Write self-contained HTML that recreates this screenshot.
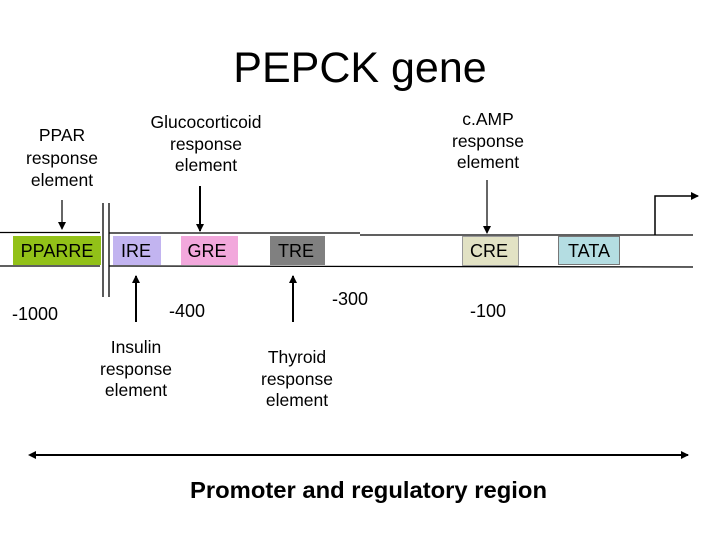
<!DOCTYPE html>
<html><head><meta charset="utf-8"><style>
html,body{margin:0;padding:0;background:#fff;}
svg{display:block;}
text{font-family:"Liberation Sans",sans-serif;fill:#000;}
</style></head><body>
<svg width="720" height="540" viewBox="0 0 720 540" xmlns="http://www.w3.org/2000/svg">
<defs>
<marker id="ah" markerWidth="8" markerHeight="8" refX="7" refY="4" orient="auto" markerUnits="userSpaceOnUse">
<path d="M0,0 L8,4 L0,8 z" fill="#000"/></marker>
</defs>
<text x="360" y="82" font-size="43" text-anchor="middle">PEPCK gene</text>

<line x1="0" y1="232.5" x2="100" y2="232.5" stroke="#000" stroke-width="1.3"/>
<line x1="109" y1="233" x2="360" y2="233" stroke="#000" stroke-width="1.3"/>
<line x1="360" y1="235" x2="693" y2="235" stroke="#000" stroke-width="1.3"/>
<line x1="0" y1="266" x2="100" y2="266" stroke="#000" stroke-width="1.3"/>
<line x1="109" y1="266" x2="693" y2="267" stroke="#000" stroke-width="1.3"/>
<line x1="103" y1="203" x2="103" y2="297" stroke="#000" stroke-width="1.3"/>
<line x1="109" y1="203" x2="109" y2="297" stroke="#000" stroke-width="1.3"/>

<rect x="13" y="236" width="88" height="29" fill="#92c118"/>
<text x="57" y="257" font-size="18" text-anchor="middle">PPARRE</text>
<rect x="113" y="236" width="48" height="29" fill="#c2b4f0"/>
<text x="136" y="257" font-size="18" text-anchor="middle">IRE</text>
<rect x="181" y="236" width="57" height="29" fill="#f2a8dc"/>
<text x="207" y="257" font-size="18" text-anchor="middle">GRE</text>
<rect x="270" y="236" width="55" height="29" fill="#808080"/>
<text x="296" y="257" font-size="18" text-anchor="middle">TRE</text>
<rect x="462.5" y="236.5" width="56" height="29" fill="#e2e2c4" stroke="#999" stroke-width="1"/>
<text x="489" y="257" font-size="18" text-anchor="middle">CRE</text>
<rect x="558.5" y="236.5" width="61" height="28" fill="#b4dde2" stroke="#777" stroke-width="1"/>
<text x="589" y="257" font-size="18" text-anchor="middle">TATA</text>

<polyline points="655,235 655,196 698,196" fill="none" stroke="#000" stroke-width="1.5" marker-end="url(#ah)"/>

<text font-size="17.5" text-anchor="middle"><tspan x="62" y="141">PPAR</tspan><tspan x="62" y="164">response</tspan><tspan x="62" y="186">element</tspan></text>
<line x1="62" y1="200" x2="62" y2="229" stroke="#000" stroke-width="1.2" marker-end="url(#ah)"/>
<text font-size="17.5" text-anchor="middle"><tspan x="206" y="128">Glucocorticoid</tspan><tspan x="206" y="150">response</tspan><tspan x="206" y="171">element</tspan></text>
<line x1="200" y1="186" x2="200" y2="231" stroke="#000" stroke-width="2" marker-end="url(#ah)"/>
<text font-size="17.5" text-anchor="middle"><tspan x="488" y="125">c.AMP</tspan><tspan x="488" y="147">response</tspan><tspan x="488" y="168">element</tspan></text>
<line x1="487" y1="180" x2="487" y2="233" stroke="#000" stroke-width="1.2" marker-end="url(#ah)"/>

<line x1="136" y1="322" x2="136" y2="276" stroke="#000" stroke-width="2" marker-end="url(#ah)"/>
<line x1="293" y1="322" x2="293" y2="276" stroke="#000" stroke-width="2" marker-end="url(#ah)"/>

<text x="35" y="320" font-size="18" text-anchor="middle">-1000</text>
<text x="187" y="317" font-size="18" text-anchor="middle">-400</text>
<text x="350" y="305" font-size="18" text-anchor="middle">-300</text>
<text x="488" y="317" font-size="18" text-anchor="middle">-100</text>

<text font-size="17.5" text-anchor="middle"><tspan x="136" y="353">Insulin</tspan><tspan x="136" y="375">response</tspan><tspan x="136" y="396">element</tspan></text>
<text font-size="17.5" text-anchor="middle"><tspan x="297" y="363">Thyroid</tspan><tspan x="297" y="385">response</tspan><tspan x="297" y="406">element</tspan></text>

<line x1="32" y1="455" x2="688" y2="455" stroke="#000" stroke-width="2" marker-end="url(#ah)"/>
<path d="M28,455 L36,451 L36,459 z" fill="#000"/>
<text x="190" y="498" font-size="23" font-weight="bold" textLength="357" lengthAdjust="spacingAndGlyphs">Promoter and regulatory region</text>
</svg>
</body></html>
